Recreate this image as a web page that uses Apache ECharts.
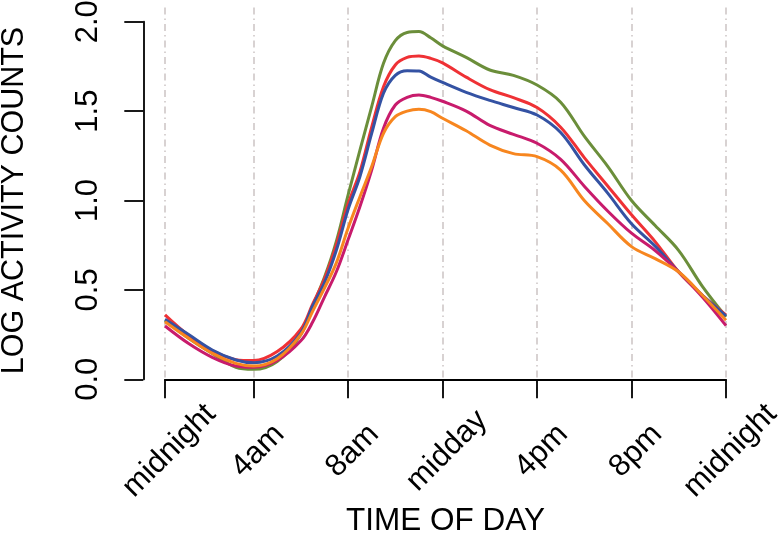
<!DOCTYPE html>
<html>
<head>
<meta charset="utf-8">
<script src="https://cdn.jsdelivr.net/npm/echarts@6/dist/echarts.min.js"></script>
<style>
html,body{margin:0;padding:0;background:#ffffff;}
#chart{width:784px;height:537px;}
</style>
</head>
<body>
<div id="chart"></div>
<script>
// 15-minute slots of the day (1..96)
const slots   = [1, 5, 9, 13, 16, 20, 24, 26, 28, 30, 32, 34, 36, 38, 40, 42, 44, 46, 48, 52, 56, 60, 64, 68, 72, 76, 80, 84, 88, 92, 96];
const green   = [0.33, 0.23, 0.145, 0.067, 0.056, 0.10, 0.25, 0.41, 0.57, 0.77, 1.03, 1.28, 1.525, 1.767, 1.894, 1.94, 1.945, 1.91, 1.865, 1.80, 1.73, 1.70, 1.646, 1.55, 1.36, 1.19, 1.00, 0.86, 0.72, 0.52, 0.35];
const red     = [0.36, 0.245, 0.16, 0.11, 0.105, 0.155, 0.28, 0.42, 0.56, 0.75, 0.98, 1.16, 1.41, 1.636, 1.758, 1.80, 1.808, 1.795, 1.77, 1.69, 1.62, 1.575, 1.52, 1.41, 1.24, 1.08, 0.92, 0.77, 0.60, 0.47, 0.36];
const blue    = [0.336, 0.25, 0.164, 0.108, 0.093, 0.13, 0.26, 0.41, 0.54, 0.72, 0.95, 1.133, 1.375, 1.60, 1.70, 1.726, 1.724, 1.69, 1.66, 1.605, 1.56, 1.52, 1.478, 1.38, 1.20, 1.04, 0.87, 0.745, 0.60, 0.47, 0.355];
const magenta = [0.298, 0.20, 0.123, 0.074, 0.067, 0.105, 0.215, 0.32, 0.46, 0.60, 0.78, 0.965, 1.17, 1.404, 1.534, 1.577, 1.59, 1.577, 1.555, 1.50, 1.42, 1.37, 1.32, 1.23, 1.08, 0.94, 0.817, 0.72, 0.60, 0.46, 0.30];
const orange  = [0.322, 0.229, 0.145, 0.089, 0.074, 0.115, 0.25, 0.38, 0.51, 0.65, 0.845, 1.02, 1.19, 1.376, 1.469, 1.50, 1.51, 1.497, 1.46, 1.39, 1.31, 1.262, 1.245, 1.17, 1.00, 0.87, 0.742, 0.675, 0.60, 0.47, 0.33];

const tickSlots  = [1, 16, 32, 48, 64, 80, 96];
const tickLabels = ['midnight', '4am', '8am', 'midday', '4pm', '8pm', 'midnight'];
const xTitle = 'TIME OF DAY';
const yTitle = 'LOG ACTIVITY COUNTS';

const seriesList = [
  { name: 'g', values: green,   color: '#6b8e3a' },
  { name: 'r', values: red,     color: '#ef3135' },
  { name: 'b', values: blue,    color: '#3452a3' },
  { name: 'm', values: magenta, color: '#c81b6c' },
  { name: 'o', values: orange,  color: '#f7861f' }
];

const FONT = '"Liberation Sans", Arial, Helvetica, sans-serif';
const chart = echarts.init(document.getElementById('chart'), null, { renderer: 'canvas' });

chart.setOption({
  animation: false,
  backgroundColor: '#ffffff',
  textStyle: { fontFamily: FONT },
  grid: [
    { left: 165, right: 58, top: 21.7, bottom: 157.7, containLabel: false, outerBoundsMode: 'none' },
    { left: 142.56, right: 35.56, top: 7.4, bottom: 143.4, containLabel: false, outerBoundsMode: 'none' }
  ],
  xAxis: [
    {
      type: 'value', gridIndex: 0, min: 1, max: 96, offset: 14,
      axisLine: { show: true, lineStyle: { color: '#000', width: 1.8 } },
      axisTick: { show: true, customValues: tickSlots, length: 19, lineStyle: { color: '#000', width: 1.8 } },
      axisLabel: {
        show: true, customValues: tickSlots, rotate: 45, margin: 62,
        align: 'center', verticalAlign: 'middle', padding: [12.7, 0, 0, 12.7],
        fontSize: 31, color: '#000', fontFamily: FONT,
        formatter: function (v) { return tickLabels[tickSlots.indexOf(Math.round(v))] || ''; }
      },
      splitLine: { show: false },
      name: xTitle, nameLocation: 'middle', nameGap: 128, nameMoveOverlap: false,
      nameTextStyle: { fontSize: 31.5, color: '#000', fontFamily: FONT, verticalAlign: 'middle', align: 'center' }
    },
    {
      type: 'value', gridIndex: 1, min: -2.8, max: 99.8,
      axisLine: { show: false },
      axisTick: { show: false, customValues: tickSlots },
      axisLabel: { show: false, customValues: tickSlots },
      splitLine: { show: true, lineStyle: { color: '#cbc4c4', width: 1.5, type: [7, 4, 1.5, 4] } }
    }
  ],
  yAxis: [
    {
      type: 'value', gridIndex: 0, min: 0, max: 2, interval: 0.5, offset: 21.7,
      axisLine: { show: true, lineStyle: { color: '#000', width: 1.8 } },
      axisTick: { show: true, length: 19, lineStyle: { color: '#000', width: 1.8 } },
      axisLabel: {
        show: true, rotate: 90, margin: 54.8, align: 'center', verticalAlign: 'middle',
        fontSize: 31, color: '#000', fontFamily: FONT,
        formatter: function (v) { return v.toFixed(1); }
      },
      splitLine: { show: false },
      name: yTitle, nameLocation: 'middle', nameGap: 128.8, nameRotate: 90, nameMoveOverlap: false,
      nameTextStyle: { fontSize: 30.5, color: '#000', fontFamily: FONT, verticalAlign: 'middle', align: 'center' }
    },
    {
      type: 'value', gridIndex: 1, min: 0, max: 1,
      axisLine: { show: false }, axisTick: { show: false }, axisLabel: { show: false }, splitLine: { show: false }
    }
  ],
  series: seriesList.map(function (s) {
    return {
      name: s.name, type: 'line', xAxisIndex: 0, yAxisIndex: 0,
      data: slots.map(function (x, i) { return [x, s.values[i]]; }),
      showSymbol: false, smooth: 0.35, clip: false,
      lineStyle: { color: s.color, width: 3 },
      itemStyle: { color: s.color },
      emphasis: { disabled: true }
    };
  })
});
</script>
</body>
</html>
